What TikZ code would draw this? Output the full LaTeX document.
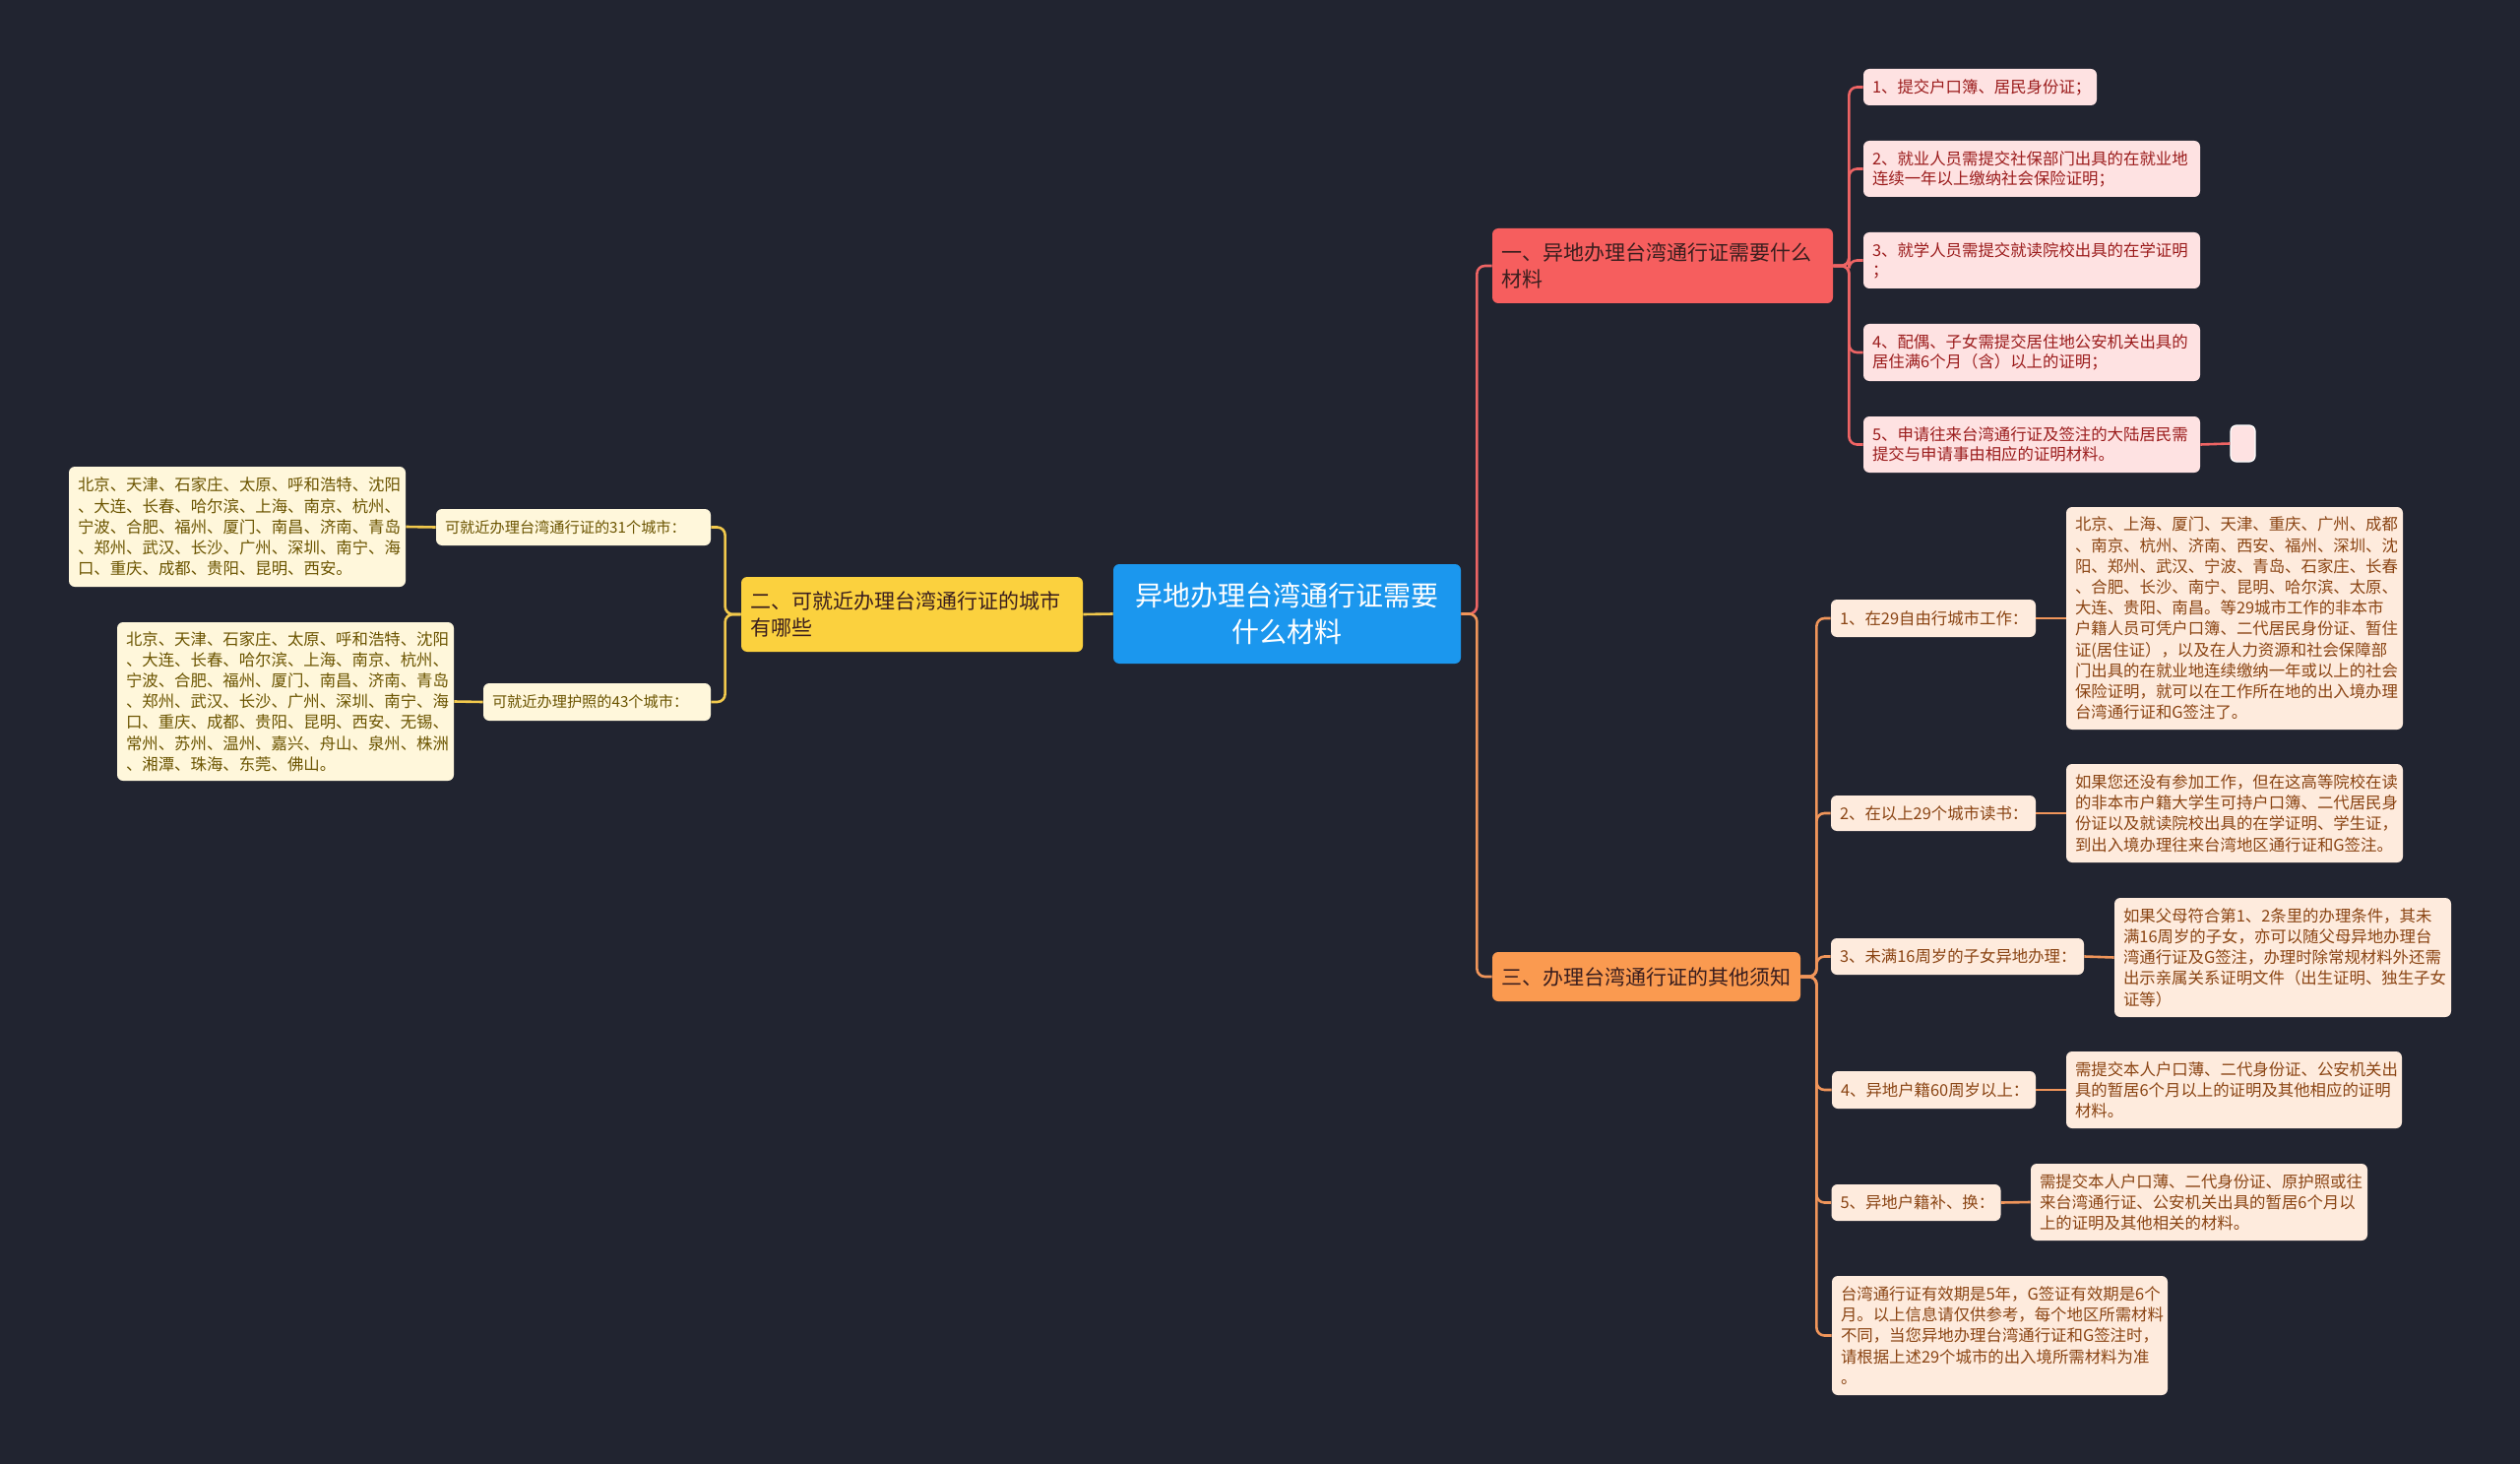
\documentclass[tikz,border=0pt]{standalone}
\usepackage{fontspec}
\setmainfont{Noto Sans CJK SC}
\definecolor{bgdark}{HTML}{212430}
\definecolor{rootblue}{HTML}{1B97EE}
\definecolor{redfill}{HTML}{F65E5E}
\definecolor{redpale}{HTML}{FEE2E2}
\definecolor{redtext}{HTML}{9B1C1C}
\definecolor{redline}{HTML}{EE6464}
\definecolor{yelfill}{HTML}{FBD13E}
\definecolor{yelpale}{HTML}{FFF7DB}
\definecolor{yeltext}{HTML}{6B5400}
\definecolor{yelline}{HTML}{F2C94C}
\definecolor{orgfill}{HTML}{FA9A50}
\definecolor{orgpale}{HTML}{FEEBDD}
\definecolor{orgtext}{HTML}{8A4413}
\definecolor{orgline}{HTML}{F0955A}
\definecolor{darktext}{HTML}{3A1E1E}

\begin{document}
\begin{tikzpicture}[x=0.5pt, y=-0.5pt,
    rootnode/.style={fill=rootblue, text=white, rounded corners=3pt, align=center,
      inner xsep=4.5pt, font=\fontsize{14}{18.5}\selectfont},
    branchred/.style={fill=redfill, text=darktext, rounded corners=3pt, align=left,
      inner xsep=4.5pt, font=\fontsize{10.5}{13.5}\selectfont},
    branchyel/.style={branchred, fill=yelfill},
    branchorg/.style={branchred, fill=orgfill},
    leafred/.style={fill=redpale, text=redtext, rounded corners=3pt, align=left,
      inner xsep=4.5pt, font=\fontsize{8.2}{10}\selectfont},
    leafyel/.style={leafred, fill=yelpale, text=yeltext, font=\fontsize{8.2}{10.6}\selectfont},
    leaforg/.style={leafred, fill=orgpale, text=orgtext, font=\fontsize{8.2}{10.6}\selectfont},
    linered/.style={draw=redline, line width=1.3pt, rounded corners=4pt},
    lineyel/.style={linered, draw=yelline},
    lineorg/.style={linered, draw=orgline}
  ]
  \fill[bgdark] (0,0) rectangle (2560,1487);
  \useasboundingbox (0,0) rectangle (2560,1487);

  % centro
  \node[rootnode, text width=167.5pt, minimum height=50.5pt] (root) at (1307.5,623.5)
    {异地办理台湾通行证需要\\什么材料};

  % rama roja
  \node[branchred, text width=164pt, minimum height=38pt] (red) at (1689,270)
    {一、异地办理台湾通行证需要什么\\材料};
  \node[leafred, text width=109.5pt, minimum height=18.5pt] (r1) at (2011.5,88.5)
    {1、提交户口簿、居民身份证；};
  \node[leafred, text width=162pt, minimum height=28.5pt] (r2) at (2064,171.5)
    {2、就业人员需提交社保部门出具的在就业地\\连续一年以上缴纳社会保险证明；};
  \node[leafred, text width=162pt, minimum height=28.5pt] (r3) at (2064,264.5)
    {3、就学人员需提交就读院校出具的在学证明\\；};
  \node[leafred, text width=162pt, minimum height=29pt] (r4) at (2064,358)
    {4、配偶、子女需提交居住地公安机关出具的\\居住满6个月（含）以上的证明；};
  \node[leafred, text width=162pt, minimum height=28.5pt] (r5) at (2064,451.5)
    {5、申请往来台湾通行证及签注的大陆居民需\\提交与申请事由相应的证明材料。};
  \node[leafred, draw=white, line width=0.6pt, inner sep=0pt, minimum width=12.5pt,
    minimum height=18.5pt] (rx) at (2278.5,450.5) {};

  % rama amarilla
  \node[branchyel, text width=164.5pt, minimum height=38pt] (yel) at (926.5,624)
    {二、可就近办理台湾通行证的城市\\有哪些};
  \node[leafyel, text width=130.5pt, minimum height=18.5pt, font=\fontsize{7.6}{10}\selectfont]
    (y1) at (582.5,535.5) {可就近办理台湾通行证的31个城市：};
  \node[leafyel, text width=106.5pt, minimum height=19pt, font=\fontsize{7.6}{10}\selectfont]
    (y2) at (606.5,713) {可就近办理护照的43个城市：};
  \node[leafyel, text width=162pt, minimum height=61pt] (yc1) at (241,535)
    {北京、天津、石家庄、太原、呼和浩特、沈阳\\、大连、长春、哈尔滨、上海、南京、杭州、\\宁波、合肥、福州、厦门、南昌、济南、青岛\\、郑州、武汉、长沙、广州、深圳、南宁、海\\口、重庆、成都、贵阳、昆明、西安。};
  \node[leafyel, text width=162pt, minimum height=80.5pt] (yc2) at (290,712.5)
    {北京、天津、石家庄、太原、呼和浩特、沈阳\\、大连、长春、哈尔滨、上海、南京、杭州、\\宁波、合肥、福州、厦门、南昌、济南、青岛\\、郑州、武汉、长沙、广州、深圳、南宁、海\\口、重庆、成都、贵阳、昆明、西安、无锡、\\常州、苏州、温州、嘉兴、舟山、泉州、株洲\\、湘潭、珠海、东莞、佛山。};

  % rama naranja
  \node[branchorg, text width=147.5pt, minimum height=25pt] (org) at (1672.5,992)
    {三、办理台湾通行证的其他须知};
  \node[leaforg, text width=95pt, minimum height=19pt] (o1) at (1964,628)
    {1、在29自由行城市工作：};
  \node[leaforg, text width=95pt, minimum height=18pt] (o2) at (1964,826)
    {2、在以上29个城市读书：};
  \node[leaforg, text width=119.5pt, minimum height=18.5pt] (o3) at (1988.5,971.5)
    {3、未满16周岁的子女异地办理：};
  \node[leaforg, text width=94.5pt, minimum height=19pt] (o4) at (1964.5,1107)
    {4、异地户籍60周岁以上：};
  \node[leaforg, text width=77pt, minimum height=18.5pt] (o5) at (1946.5,1221.5)
    {5、异地户籍补、换：};
  \node[leaforg, text width=161.5pt, minimum height=60.5pt] (o6) at (2031.5,1356.5)
    {台湾通行证有效期是5年，G签证有效期是6个\\月。以上信息请仅供参考，每个地区所需材料\\不同，当您异地办理台湾通行证和G签注时，\\请根据上述29个城市的出入境所需材料为准\\。};
  \node[leaforg, text width=162pt, minimum height=113pt] (c1) at (2270,628)
    {北京、上海、厦门、天津、重庆、广州、成都\\、南京、杭州、济南、西安、福州、深圳、沈\\阳、郑州、武汉、宁波、青岛、石家庄、长春\\、合肥、长沙、南宁、昆明、哈尔滨、太原、\\大连、贵阳、南昌。等29城市工作的非本市\\户籍人员可凭户口簿、二代居民身份证、暂住\\证(居住证），以及在人力资源和社会保障部\\门出具的在就业地连续缴纳一年或以上的社会\\保险证明，就可以在工作所在地的出入境办理\\台湾通行证和G签注了。};
  \node[leaforg, text width=162pt, minimum height=50pt] (c2) at (2270,826)
    {如果您还没有参加工作，但在这高等院校在读\\的非本市户籍大学生可持户口簿、二代居民身\\份证以及就读院校出具的在学证明、学生证，\\到出入境办理往来台湾地区通行证和G签注。};
  \node[leaforg, text width=162pt, minimum height=60.5pt] (c3) at (2319,972.5)
    {如果父母符合第1、2条里的办理条件，其未\\满16周岁的子女，亦可以随父母异地办理台\\湾通行证及G签注，办理时除常规材料外还需\\出示亲属关系证明文件（出生证明、独生子女\\证等）};
  \node[leaforg, text width=161.5pt, minimum height=39pt] (c4) at (2269.5,1107)
    {需提交本人户口薄、二代身份证、公安机关出\\具的暂居6个月以上的证明及其他相应的证明\\材料。};
  \node[leaforg, text width=162pt, minimum height=39pt] (c5) at (2234,1221)
    {需提交本人户口薄、二代身份证、原护照或往\\来台湾通行证、公安机关出具的暂居6个月以\\上的证明及其他相关的材料。};

  \coordinate (rj) at ([xshift=8pt]root.east);
  \coordinate (rt) at ([xshift=8pt]red.east);
  \coordinate (yt) at ([xshift=-8pt]yel.west);
  \coordinate (ot) at ([xshift=8pt]org.east);

  % centro a ramas
  \draw[linered] (root.east) -- (rj) |- (red.west);
  \draw[lineorg] (root.east) -- (rj) |- (org.west);
  \draw[lineyel] (root.west) -- (yel.east);

  % rama roja
  \draw[linered] (red.east) -- (rt) |- (r1.west);
  \draw[linered] (red.east) -- (rt) |- (r2.west);
  \draw[linered] (red.east) -- (rt) |- (r3.west);
  \draw[linered] (red.east) -- (rt) |- (r4.west);
  \draw[linered] (red.east) -- (rt) |- (r5.west);
  \draw[linered] (r5.east) -- (rx.west);

  % rama amarilla
  \draw[lineyel] (yel.west) -- (yt) |- (y1.east);
  \draw[lineyel] (yel.west) -- (yt) |- (y2.east);
  \draw[lineyel] (y1.west) -- (yc1.east);
  \draw[lineyel] (y2.west) -- (yc2.east);

  % rama naranja
  \draw[lineorg] (org.east) -- (ot) |- (o1.west);
  \draw[lineorg] (org.east) -- (ot) |- (o2.west);
  \draw[lineorg] (org.east) -- (ot) |- (o3.west);
  \draw[lineorg] (org.east) -- (ot) |- (o4.west);
  \draw[lineorg] (org.east) -- (ot) |- (o5.west);
  \draw[lineorg] (org.east) -- (ot) |- (o6.west);
  \draw[lineorg] (o1.east) -- (c1.west);
  \draw[lineorg] (o2.east) -- (c2.west);
  \draw[lineorg] (o3.east) -- (c3.west);
  \draw[lineorg] (o4.east) -- (c4.west);
  \draw[lineorg] (o5.east) -- (c5.west);
\end{tikzpicture}
\end{document}
